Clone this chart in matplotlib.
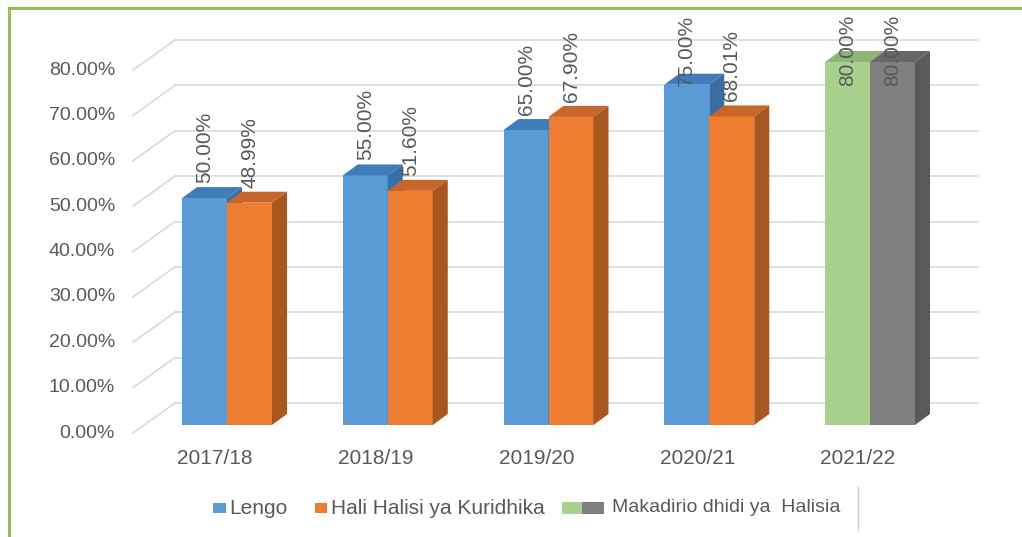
import matplotlib
matplotlib.use("Agg")
import matplotlib.pyplot as plt
from matplotlib.patches import Polygon, Rectangle
from matplotlib.lines import Line2D

plt.rcParams['font.family'] = ['Liberation Sans', 'DejaVu Sans']

# --- data ---
years = ['2017/18', '2018/19', '2019/20', '2020/21', '2021/22']
lengo = [50.00, 55.00, 65.00, 75.00]
halisi = [48.99, 51.60, 67.90, 68.01]
makadirio = [80.00]      # 2021/22 estimate (green)
halisia = [80.00]        # 2021/22 actual (gray)
yticks = [0, 10, 20, 30, 40, 50, 60, 70, 80]
legend_labels = ['Lengo', 'Hali Halisi ya Kuridhika', 'Makadirio dhidi ya  Halisia']

# --- colours (front, top, side) ---
blue = ('#5B9BD5', '#3F7DBA', '#3A6FA3')
orange = ('#ED7D31', '#C8652A', '#A8571F')
green = ('#A9D18E', '#8DB574', '#7E9F68')
gray = ('#808080', '#666666', '#5A5A5A')
txt = '#595959'
grid_c = '#D9D9D9'

# pixel -> data helpers (fig 1022x537, axes fill the figure)
XPX, X0 = 160.75, 227.0     # px per category, px of first category
YPX, Y0 = 4.5375, 425.0     # px per percent, px of bar base
def px_x(p): return (p - X0) / XPX
def px_y(p): return (Y0 - p) / YPX

W = 45 / XPX                # bar width
DX, DY = 15 / XPX, 11 / YPX  # bar depth offset
BX, BY = 42 / XPX, 30 / YPX  # back wall offset from front

fig = plt.figure(figsize=(10.22, 5.37), dpi=100)
ax = fig.add_axes([0, 0, 1, 1])
ax.set_xlim(px_x(0), px_x(1022))
ax.set_ylim(px_y(537), px_y(0))
ax.axis('off')

# walls: gridlines on back wall + diagonal on side wall, labels at front
front_off = px_y(433)
for t in yticks:
    yb = t + front_off + BY
    ax.plot([px_x(175), px_x(978)], [yb, yb], color=grid_c, lw=1.2, zorder=1)
    ax.plot([px_x(133), px_x(175)], [t + front_off, yb], color=grid_c, lw=1.2, zorder=1)
    ax.text(px_x(115), t + front_off, f'{t:.2f}%', ha='right', va='center',
            fontsize=14, color=txt)


def bar3d(x0, v, cols, show_side=True):
    x1 = x0 + W
    ax.bar(x0, v, width=W, align='edge', color=cols[0], zorder=3)
    ax.add_patch(Polygon([(x0, v), (x0 + DX, v + DY), (x1 + DX, v + DY), (x1, v)],
                         closed=True, facecolor=cols[1], edgecolor='none', zorder=3))
    if show_side:
        ax.add_patch(Polygon([(x1, 0), (x1 + DX, DY), (x1 + DX, v + DY), (x1, v)],
                             closed=True, facecolor=cols[2], edgecolor='none', zorder=3))


def label(xc, v):
    yl = min(v + DY + 4 / YPX, px_y(15) - 71 / YPX)
    ax.text(xc, yl, f'{v:.2f}%', rotation=90, ha='center', va='bottom',
            fontsize=15, color=txt, zorder=5)


pairs = [(lengo[i], halisi[i], blue, orange) for i in range(len(lengo))]
pairs.append((makadirio[0], halisia[0], green, gray))

for i, (a, b, ca, cb) in enumerate(pairs):
    bar3d(i - W, a, ca)
    bar3d(i, b, cb)
    label(i - W / 2, a)
    label(i + W / 2, b)
    ax.text(i - 12 / XPX, px_y(459), years[i], ha='center', va='center',
            fontsize=15, color=txt)

# --- legend (manual, figure pixel positions) ---
def fx(p): return p / 1022
def fy(p): return 1 - p / 537

ly = 508
fig.add_artist(Rectangle((fx(213), fy(ly + 5)), fx(226) - fx(213), 10 / 537,
                         facecolor=blue[0], edgecolor='none'))
fig.text(fx(229), fy(ly), legend_labels[0], ha='left', va='center', fontsize=15, color=txt)
fig.add_artist(Rectangle((fx(315), fy(ly + 5)), fx(327) - fx(315), 10 / 537,
                         facecolor=orange[0], edgecolor='none'))
fig.text(fx(331), fy(ly), legend_labels[1], ha='left', va='center', fontsize=15, color=txt)
fig.add_artist(Rectangle((fx(562), fy(ly + 6)), fx(582) - fx(562), 12 / 537,
                         facecolor=green[0], edgecolor='none'))
fig.add_artist(Rectangle((fx(582), fy(ly + 6)), fx(604) - fx(582), 12 / 537,
                         facecolor=gray[0], edgecolor='none'))
fig.text(fx(612), fy(ly), legend_labels[2], ha='left', va='center', fontsize=14, color=txt)
fig.add_artist(Line2D([fx(858), fx(858)], [fy(487), fy(530)], color='#D0D0D0', lw=1))

# green frame (top and left)
fig.add_artist(Line2D([fx(9), fx(1022)], [fy(8), fy(8)], color='#9BBB59', lw=2.2))
fig.add_artist(Line2D([fx(9), fx(9)], [fy(8), fy(537)], color='#9BBB59', lw=2.2))

fig.savefig('out.png', dpi=100)
